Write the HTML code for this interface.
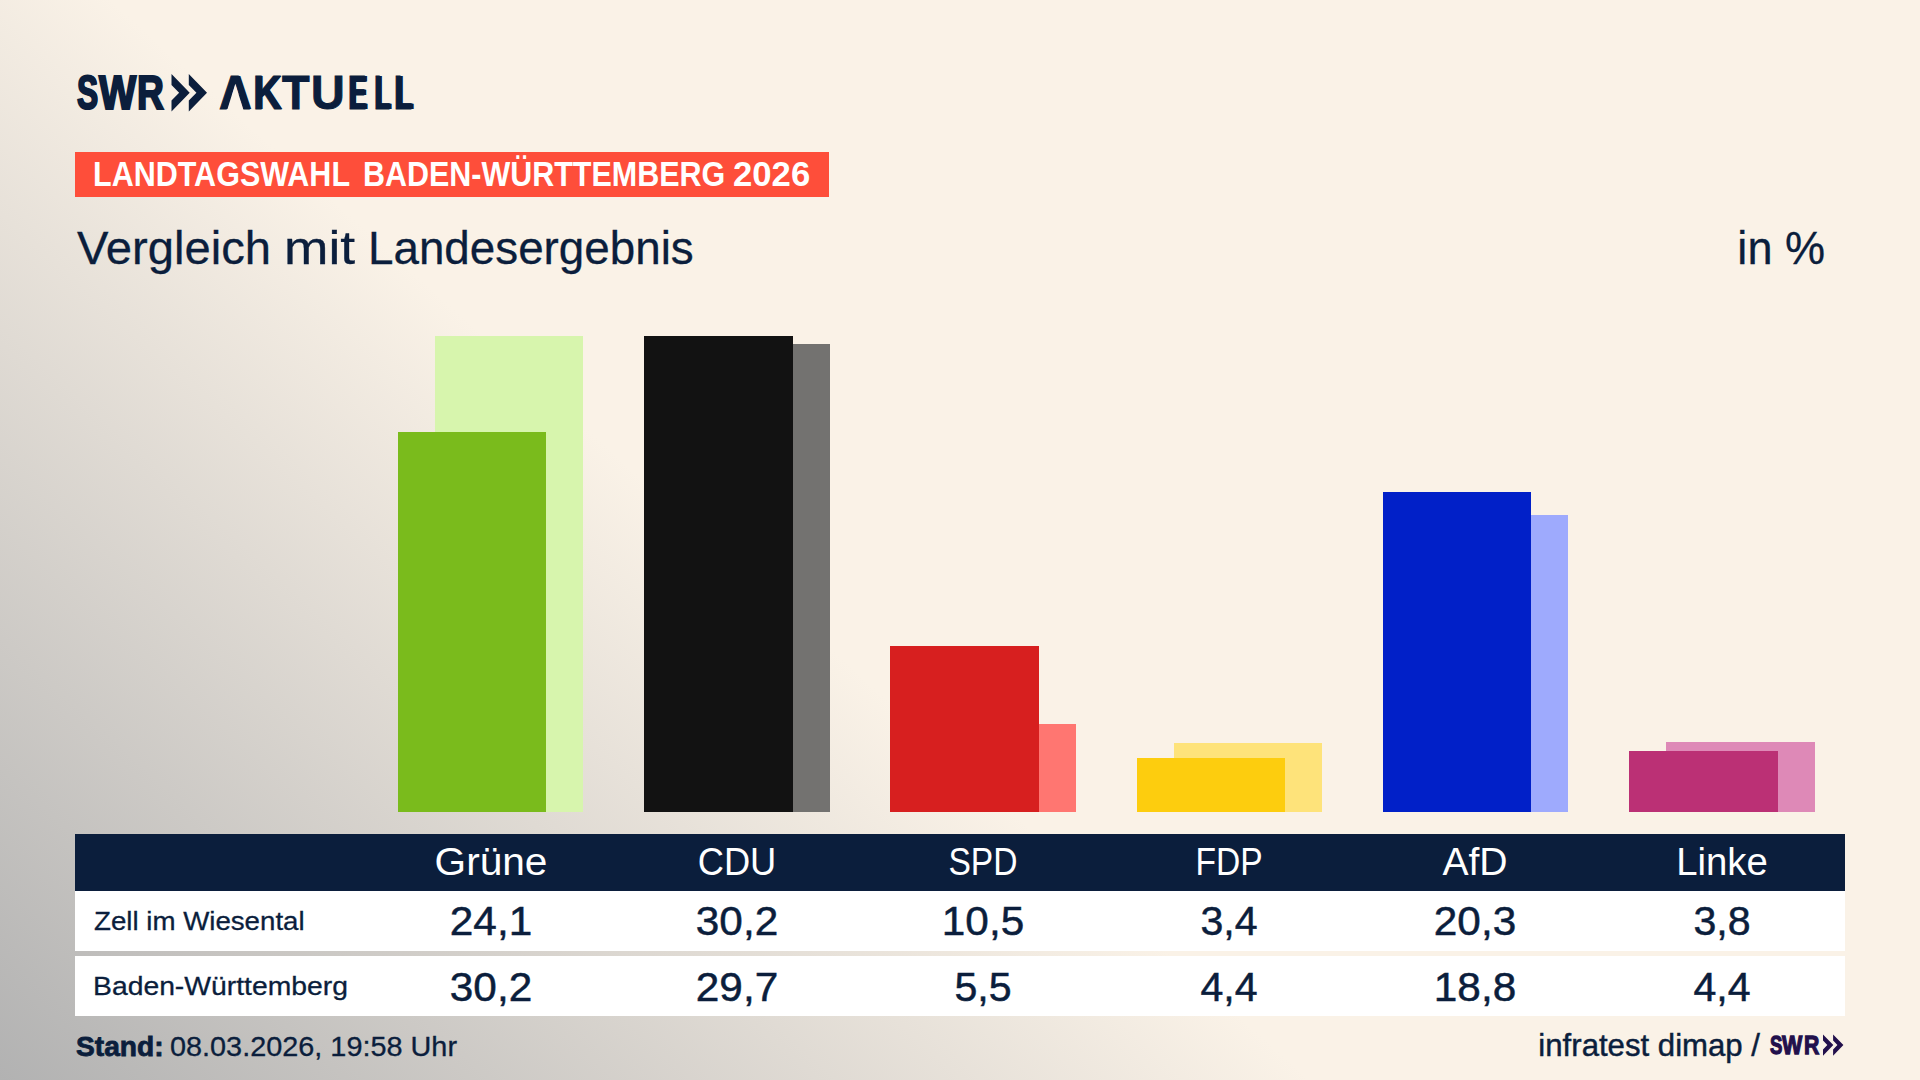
<!DOCTYPE html>
<html lang="de">
<head>
<meta charset="utf-8">
<title>SWR Aktuell – Landtagswahl Baden-Württemberg 2026 – Vergleich mit Landesergebnis</title>
<style>
html,body{margin:0;padding:0;}
body{width:1920px;height:1080px;overflow:hidden;position:relative;
 font-family:"Liberation Sans",sans-serif;color:#0b1e3c;
 background:linear-gradient(42deg,#b2b2b2 0%,#faf2e7 42%);}
h1{margin:0;font-weight:normal;}
.t{position:absolute;white-space:nowrap;line-height:1;}
.t.l{transform-origin:0 0;}
.t.c{width:600px;text-align:center;transform-origin:50% 0;}
.t.r{width:800px;text-align:right;transform-origin:100% 0;}
.brand svg,.source svg{position:absolute;left:0;top:0;}
.kicker{position:absolute;left:75px;top:152px;width:754px;height:45px;background:#fe4e3a;}
.kicker{font-size:35.3px;font-weight:bold;color:#fff;}
.title,.unit{font-size:45.5px;-webkit-text-stroke:.3px #0b1e3c;}
h1.title{position:absolute;left:0;top:0;}
.bar{position:absolute;}
.row{position:absolute;left:75px;width:1770px;}
.row.head{top:834px;height:57px;background:#0b1e3c;color:#fff;}
.row.r1{top:891px;height:60px;background:#fff;}
.row.r2{top:956px;height:60px;background:#fff;}
.th{font-size:38.2px;}
.num{font-size:41.5px;-webkit-text-stroke:.5px #0b1e3c;}
.rl{font-size:26px;-webkit-text-stroke:.3px #0b1e3c;}
.stand{font-size:28px;font-weight:bold;-webkit-text-stroke:.8px #0b1e3c;}
.date{font-size:27px;-webkit-text-stroke:.3px #0b1e3c;}
.src{font-size:31px;-webkit-text-stroke:.45px #0b1e3c;}
</style>
</head>
<body>

<header class="brand" aria-label="SWR Aktuell">
<div class="t" style="left:0;top:68.70px;font-size:47.6px;font-weight:bold;color:#0b1e3c;-webkit-text-stroke:2.2px #0b1e3c;"><span style="position:absolute;left:76.82px;top:0;transform-origin:0 0;transform:scaleX(0.655);text-shadow:0.75px 0 0 #0b1e3c,1.50px 0 0 #0b1e3c;">S</span><span style="position:absolute;left:99.47px;top:0;transform-origin:0 0;transform:scaleX(0.827);">W</span><span style="position:absolute;left:137.27px;top:0;transform-origin:0 0;transform:scaleX(0.781);">R</span></div>
<svg width="220" height="120" viewBox="0 0 220 120" aria-hidden="true"><polygon points="171.50,74.00 189.70,92.75 171.50,111.50 171.50,100.62 179.14,92.75 171.50,84.88" fill="#0b1e3c"/><polygon points="188.80,74.00 207.00,92.75 188.80,111.50 188.80,100.62 196.44,92.75 188.80,84.88" fill="#0b1e3c"/></svg>
<div class="t" style="left:0;top:67.84px;font-size:48.5px;font-weight:bold;color:#0b1e3c;-webkit-text-stroke:1.0px #0b1e3c;"><span style="position:absolute;left:219.36px;top:0;transform-origin:0 0;transform:scaleX(0.900);clip-path:polygon(-10% -10%,110% -10%,110% 110%,83.7% 100%,51.8% 33%,19.8% 100%,-10% 110%);text-shadow:1.00px 0 0 #0b1e3c,2.00px 0 0 #0b1e3c;">A</span><span style="position:absolute;left:253.38px;top:0;transform-origin:0 0;transform:scaleX(0.810);text-shadow:0.75px 0 0 #0b1e3c,1.50px 0 0 #0b1e3c;">K</span><span style="position:absolute;left:282.46px;top:0;transform-origin:0 0;transform:scaleX(0.930);">T</span><span style="position:absolute;left:310.68px;top:0;transform-origin:0 0;transform:scaleX(0.962);">U</span><span style="position:absolute;left:347.75px;top:0;transform-origin:0 0;transform:scaleX(0.565);text-shadow:1.00px 0 0 #0b1e3c,2.00px 0 0 #0b1e3c,3.00px 0 0 #0b1e3c,4.00px 0 0 #0b1e3c;">E</span><span style="position:absolute;left:373.51px;top:0;transform-origin:0 0;transform:scaleX(0.542);text-shadow:1.00px 0 0 #0b1e3c,2.00px 0 0 #0b1e3c,3.00px 0 0 #0b1e3c,4.00px 0 0 #0b1e3c;">L</span><span style="position:absolute;left:393.93px;top:0;transform-origin:0 0;transform:scaleX(0.607);text-shadow:1.00px 0 0 #0b1e3c,2.00px 0 0 #0b1e3c,3.00px 0 0 #0b1e3c,4.00px 0 0 #0b1e3c;">L</span></div>
</header>
<div class="kicker"><span class="t l" style="left:18.33px;top:3.71px;transform:scaleX(0.8644);">LANDTAGSWAHL</span> <span class="t l" style="left:287.63px;top:3.71px;transform:scaleX(0.8631);">BADEN-WÜRTTEMBERG</span> <span class="t l" style="left:657.88px;top:3.71px;transform:scaleX(0.9828);">2026</span></div>
<h1 class="title"><span class="t l" style="left:76.80px;top:225.78px;transform:scaleX(1.0362);">Vergleich</span> <span class="t l" style="left:283.59px;top:225.78px;transform:scaleX(1.1720);">mit</span> <span class="t l" style="left:368.08px;top:225.78px;transform:scaleX(1.0059);">Landesergebnis</span></h1>
<div class="t r unit" style="left:1025.0px;top:226.08px;transform:scaleX(0.99);">in %</div>
<main>
<section class="chart">
<div class="group"><div class="bar ref" style="left:435px;top:336px;width:148px;height:476px;background:#d7f5ad;"></div><div class="bar cur" style="left:398px;top:432px;width:148px;height:380px;background:#7abb1c;"></div></div>
<div class="group"><div class="bar ref" style="left:681px;top:344px;width:149px;height:468px;background:#737270;"></div><div class="bar cur" style="left:644px;top:336px;width:149px;height:476px;background:#121212;"></div></div>
<div class="group"><div class="bar ref" style="left:927px;top:724px;width:149px;height:88px;background:#ff7671;"></div><div class="bar cur" style="left:890px;top:646px;width:149px;height:166px;background:#d71f1f;"></div></div>
<div class="group"><div class="bar ref" style="left:1174px;top:743px;width:148px;height:69px;background:#fee37a;"></div><div class="bar cur" style="left:1137px;top:758px;width:148px;height:54px;background:#fdcd0e;"></div></div>
<div class="group"><div class="bar ref" style="left:1420px;top:515px;width:148px;height:297px;background:#9eaafd;"></div><div class="bar cur" style="left:1383px;top:492px;width:148px;height:320px;background:#0120c8;"></div></div>
<div class="group"><div class="bar ref" style="left:1666px;top:742px;width:149px;height:70px;background:#de89b7;"></div><div class="bar cur" style="left:1629px;top:751px;width:149px;height:61px;background:#bb3075;"></div></div>
</section>
<section class="table">
<div class="row head">
<div class="t c th" style="left:115.5px;top:8.86px;transform:scaleX(1.063);">Grüne</div>
<div class="t c th" style="left:361.7px;top:8.86px;transform:scaleX(0.95);">CDU</div>
<div class="t c th" style="left:607.9px;top:8.86px;transform:scaleX(0.88);">SPD</div>
<div class="t c th" style="left:854.1px;top:8.86px;transform:scaleX(0.88);">FDP</div>
<div class="t c th" style="left:1100.3px;top:8.86px;transform:scaleX(1.024);">AfD</div>
<div class="t c th" style="left:1346.5px;top:8.86px;transform:scaleX(1.004);">Linke</div>
</div>
<div class="row r1"><div class="t l rl" style="left:19.4px;top:16.59px;transform:scaleX(1.064);">Zell im Wiesental</div>
<div class="t c num" style="left:115.5px;top:9.46px;transform:scaleX(1.02);">24,1</div>
<div class="t c num" style="left:361.7px;top:9.46px;transform:scaleX(1.02);">30,2</div>
<div class="t c num" style="left:607.9px;top:9.46px;transform:scaleX(1.02);">10,5</div>
<div class="t c num" style="left:854.1px;top:9.46px;transform:scaleX(0.99);">3,4</div>
<div class="t c num" style="left:1100.3px;top:9.46px;transform:scaleX(1.02);">20,3</div>
<div class="t c num" style="left:1346.5px;top:9.46px;transform:scaleX(0.99);">3,8</div>
</div>
<div class="row r2"><div class="t l rl" style="left:18.4px;top:17.29px;transform:scaleX(1.089);">Baden-Württemberg</div>
<div class="t c num" style="left:115.5px;top:9.66px;transform:scaleX(1.02);">30,2</div>
<div class="t c num" style="left:361.7px;top:9.66px;transform:scaleX(1.02);">29,7</div>
<div class="t c num" style="left:607.9px;top:9.66px;transform:scaleX(0.99);">5,5</div>
<div class="t c num" style="left:854.1px;top:9.66px;transform:scaleX(0.99);">4,4</div>
<div class="t c num" style="left:1100.3px;top:9.66px;transform:scaleX(1.02);">18,8</div>
<div class="t c num" style="left:1346.5px;top:9.66px;transform:scaleX(0.99);">4,4</div>
</div>
</section>
</main>
<footer>
<div class="t l stand" style="left:75.8px;top:1033.09px;transform:scaleX(1.006);">Stand:</div>
<div class="t l date" style="left:169.5px;top:1033.94px;transform:scaleX(1.068);">08.03.2026, 19:58 Uhr</div>
<div class="source">
<div class="t r src" style="left:960.0px;top:1029.75px;transform:scaleX(1.005);">infratest dimap /</div>
<div class="t" style="left:0;top:1032.39px;font-size:26.7px;font-weight:bold;color:#22104c;-webkit-text-stroke:1.3px #22104c;"><span style="position:absolute;left:1769.52px;top:0;transform-origin:0 0;transform:scaleX(0.694);">S</span><span style="position:absolute;left:1782.30px;top:0;transform-origin:0 0;transform:scaleX(0.805);">W</span><span style="position:absolute;left:1803.90px;top:0;transform-origin:0 0;transform:scaleX(0.795);">R</span></div>
<svg width="1920" height="1080" viewBox="0 0 1920 1080" aria-hidden="true"><polygon points="1823.00,1034.40 1833.30,1045.05 1823.00,1055.70 1823.00,1049.52 1827.33,1045.05 1823.00,1040.58" fill="#22104c"/><polygon points="1833.10,1034.40 1843.40,1045.05 1833.10,1055.70 1833.10,1049.52 1837.43,1045.05 1833.10,1040.58" fill="#22104c"/></svg>
</div>
</footer>
</body>
</html>
